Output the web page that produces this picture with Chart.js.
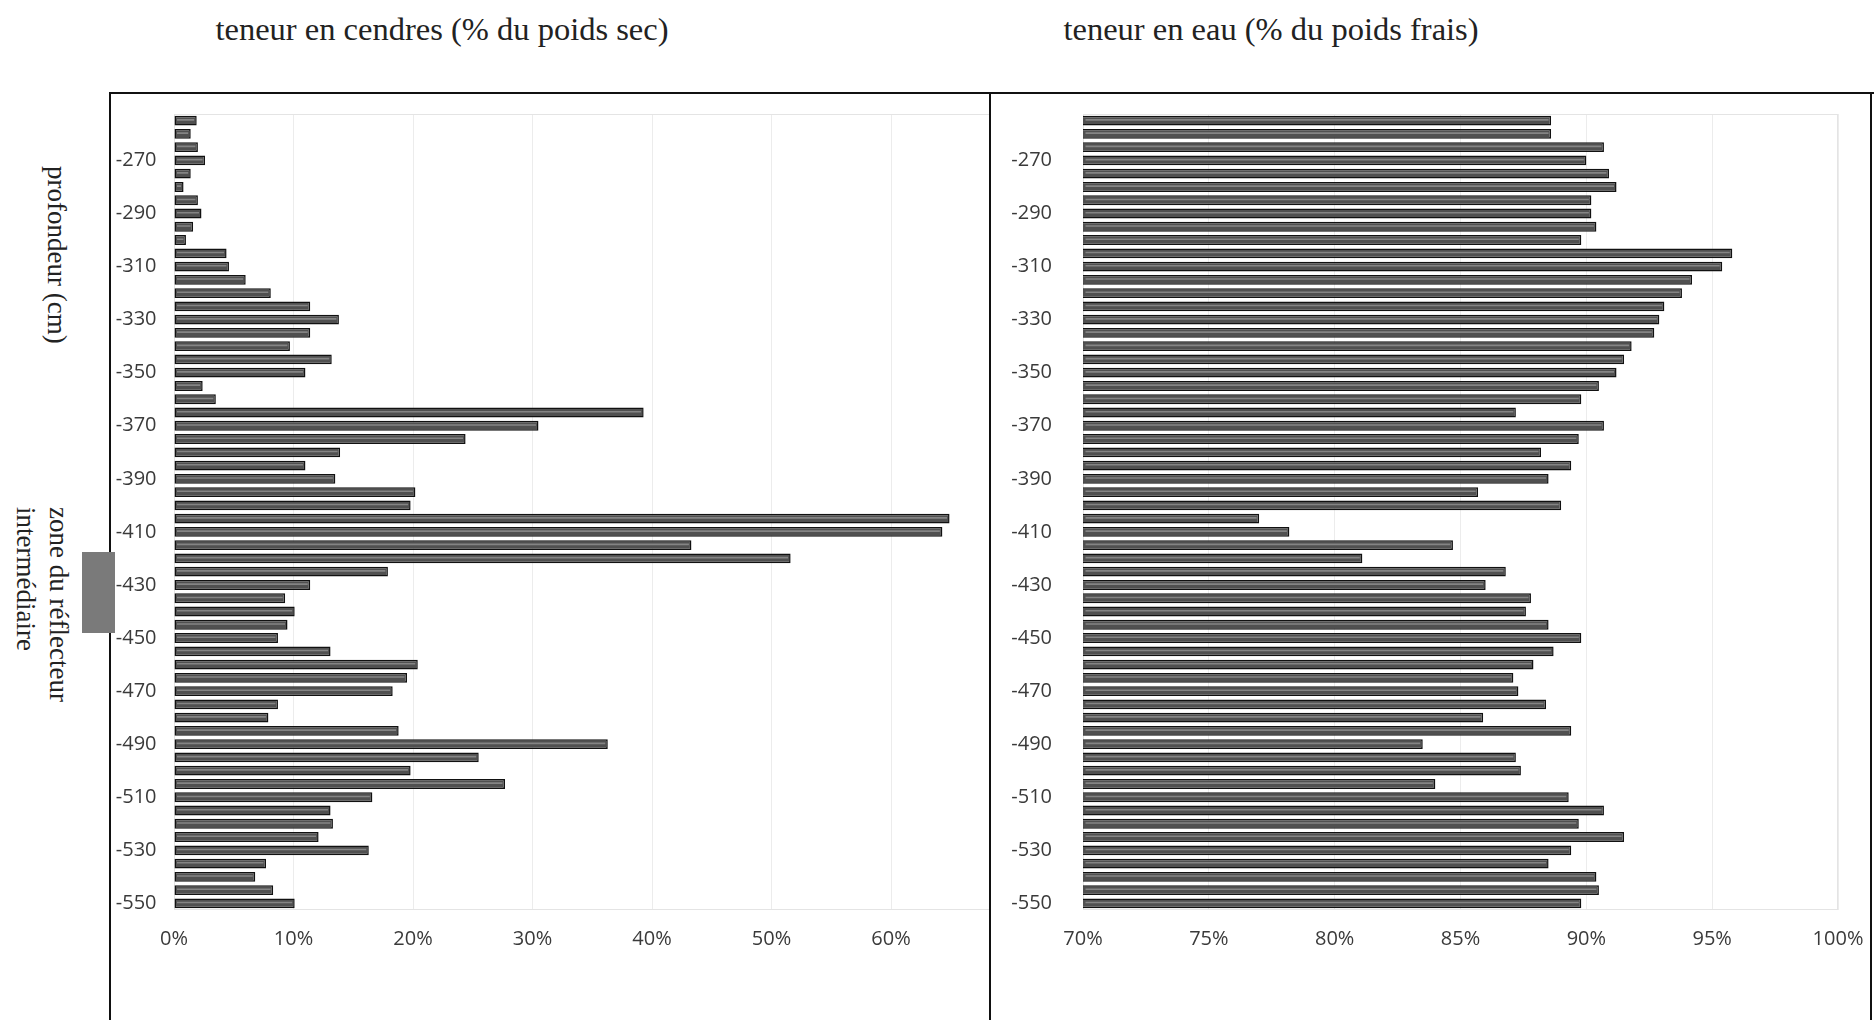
<!DOCTYPE html>
<html>
<head>
<meta charset="utf-8">
<script src="https://cdn.jsdelivr.net/npm/chart.js@4.4.1/dist/chart.umd.min.js"></script>
<style>
  html, body { margin: 0; padding: 0; background: #fff; }
  body { width: 1874px; height: 1020px; position: relative; overflow: hidden; }
  .title { position: absolute; top: 11px; font-family: "Liberation Serif", "DejaVu Serif", serif; font-size: 32.5px; color: #222; white-space: nowrap; transform: translateX(-50%); }
  .line { position: absolute; background: #111; }
  .vert { position: absolute; font-family: "Liberation Serif", "DejaVu Serif", serif; font-size: 27px; color: #222; writing-mode: vertical-rl; white-space: nowrap; }
  .box { position: absolute; overflow: hidden; }
</style>
</head>
<body>
<div class="title" id="t1" style="left:442px;">teneur en cendres (% du poids sec)</div>
<div class="title" id="t2" style="left:1271px;">teneur en eau (% du poids frais)</div>

<div class="line" style="left:109px; top:92px; width:1765px; height:2px;"></div>
<div class="line" style="left:109px; top:92px; width:2px; height:928px;"></div>
<div class="line" style="left:989px; top:92px; width:2px; height:928px;"></div>
<div class="line" style="left:1870px; top:92px; width:2px; height:928px;"></div>

<div class="vert" style="left:41px; top:166px; line-height:32px;">profondeur (cm)</div>
<div class="vert" style="left:9px; top:507px; line-height:33px;">zone du réflecteur<br>intermédiaire</div>
<div style="position:absolute; left:82px; top:552px; width:33px; height:81px; background:#7a7a7a;"></div>

<div class="box" style="left:111px; top:95px; width:878px; height:925px;">
  <canvas id="c1" style="position:absolute; left:0; top:0;"></canvas>
</div>
<div class="box" style="left:991px; top:95px; width:879px; height:925px;">
  <canvas id="c2" style="position:absolute; left:0; top:0;"></canvas>
</div>

<script>
// ---- data ----
const depths = [-255,-260,-265,-270,-275,-280,-285,-290,-295,-300,
                -305,-310,-315,-320,-325,-330,-335,-340,-345,-350,
                -355,-360,-365,-370,-375,-380,-385,-390,-395,-400,
                -405,-410,-415,-420,-425,-430,-435,-440,-445,-450,
                -455,-460,-465,-470,-475,-480,-485,-490,-495,-500,
                -505,-510,-515,-520,-525,-530,-535,-540,-545,-550];

// teneur en cendres (% du poids sec)
const cendres = [1.9, 1.4, 2.0, 2.6, 1.4, 0.8, 2.0, 2.3, 1.6, 1.0,
                 4.4, 4.6, 6.0, 8.1, 11.4, 13.8, 11.4, 9.7, 13.2, 11.0,
                 2.4, 3.5, 39.3, 30.5, 24.4, 13.9, 11.0, 13.5, 20.2, 19.8,
                 64.9, 64.3, 43.3, 51.6, 17.9, 11.4, 9.3, 10.1, 9.5, 8.7,
                 13.1, 20.4, 19.5, 18.3, 8.7, 7.9, 18.8, 36.3, 25.5, 19.8,
                 27.7, 16.6, 13.1, 13.3, 12.1, 16.3, 7.7, 6.8, 8.3, 10.1];

// teneur en eau (% du poids frais)
const eau = [88.6, 88.6, 90.7, 90.0, 90.9, 91.2, 90.2, 90.2, 90.4, 89.8,
             95.8, 95.4, 94.2, 93.8, 93.1, 92.9, 92.7, 91.8, 91.5, 91.2,
             90.5, 89.8, 87.2, 90.7, 89.7, 88.2, 89.4, 88.5, 85.7, 89.0,
             77.0, 78.2, 84.7, 81.1, 86.8, 86.0, 87.8, 87.6, 88.5, 89.8,
             88.7, 87.9, 87.1, 87.3, 88.4, 85.9, 89.4, 83.5, 87.2, 87.4,
             84.0, 89.3, 90.7, 89.7, 91.5, 89.4, 88.5, 90.4, 90.5, 89.8];

const labelEvery = 4;  // y labels shown: -270, -290, ...
const cendresTicks = {min: 0, max: 70, step: 10, hideFrom: 70};
const eauTicks = {min: 70, max: 100, step: 5};

// ---- helpers ----
const tickFont = {family: "'Open Sans', 'DejaVu Sans', sans-serif", size: 20};
const tickColor = '#3a3a3a';

const areaBorder = {
  id: 'areaBorder',
  beforeDatasetsDraw(chart) {
    const a = chart.chartArea, ctx = chart.ctx;
    ctx.save();
    ctx.strokeStyle = '#e4e4e4';
    ctx.lineWidth = 1;
    ctx.strokeRect(a.left + 0.5, a.top + 0.5, a.right - a.left - 1, a.bottom - a.top - 1);
    ctx.restore();
  }
};

// light inner stripe on each bar (style only, positions come from the bar elements)
const barSheen = {
  id: 'barSheen',
  afterDatasetsDraw(chart) {
    const ctx = chart.ctx, a = chart.chartArea;
    ctx.save();
    ctx.beginPath();
    ctx.rect(a.left, a.top, a.right - a.left, a.bottom - a.top);
    ctx.clip();
    ctx.strokeStyle = 'rgba(150,150,150,0.75)';
    ctx.lineWidth = 1.6;
    chart.getDatasetMeta(0).data.forEach(el => {
      const x0 = Math.max(a.left, Math.min(el.base, el.x)) + 2.5;
      const x1 = Math.max(el.base, el.x) - 2.5;
      if (x1 <= x0) return;
      const y = el.y - 0.8;
      ctx.beginPath();
      ctx.moveTo(x0, y); ctx.lineTo(x1, y);
      ctx.stroke();
    });
    ctx.restore();
  }
};

function makeChart(id, data, cfg) {
  const cv = document.getElementById(id);
  cv.width = cfg.canvasW; cv.height = 925;
  cv.style.width = cfg.canvasW + 'px'; cv.style.height = '925px';
  return new Chart(cv, {
    type: 'bar',
    data: {
      labels: depths,
      datasets: [{
        data: data,
        backgroundColor: '#505050',
        borderColor: '#111111',
        borderWidth: 1.5,
        borderSkipped: false,
        barPercentage: 0.74,
        categoryPercentage: 1.0
      }]
    },
    plugins: [areaBorder, barSheen],
    options: {
      indexAxis: 'y',
      responsive: false,
      animation: false,
      events: [],
      layout: {padding: {left: 0, right: cfg.padRight, top: 19, bottom: 0}},
      plugins: {legend: {display: false}, tooltip: {enabled: false}},
      scales: {
        y: {
          type: 'category',
          grid: {display: false, drawTicks: true, tickLength: cfg.yTick, tickColor: 'rgba(0,0,0,0)'},
          border: {display: false},
          afterFit(s) { s.width = cfg.yWidth; s.paddingTop = 0; s.paddingBottom = 0; },
          ticks: {
            autoSkip: false,
            padding: 0,
            color: tickColor,
            font: tickFont,
            callback(v, i) { return (i % labelEvery === labelEvery - 1) ? String(depths[i]) : ''; }
          }
        },
        x: {
          min: cfg.ticks.min, max: cfg.ticks.max,
          grid: {color: '#ececec', drawTicks: false},
          border: {display: false},
          afterFit(s) { s.height = 110; s.paddingLeft = 0; s.paddingRight = 0; },
          ticks: {
            stepSize: cfg.ticks.step,
            padding: 17,
            color: tickColor,
            font: tickFont,
            callback(v) {
              if (cfg.ticks.hideFrom !== undefined && v >= cfg.ticks.hideFrom) return '';
              return v + '%';
            }
          }
        }
      }
    }
  });
}

makeChart('c1', cendres, {canvasW: 910, padRight: 10.5, yWidth: 63, yTick: 17.5, ticks: cendresTicks});
makeChart('c2', eau, {canvasW: 879, padRight: 32, yWidth: 92, yTick: 31, ticks: eauTicks});
</script>
</body>
</html>
